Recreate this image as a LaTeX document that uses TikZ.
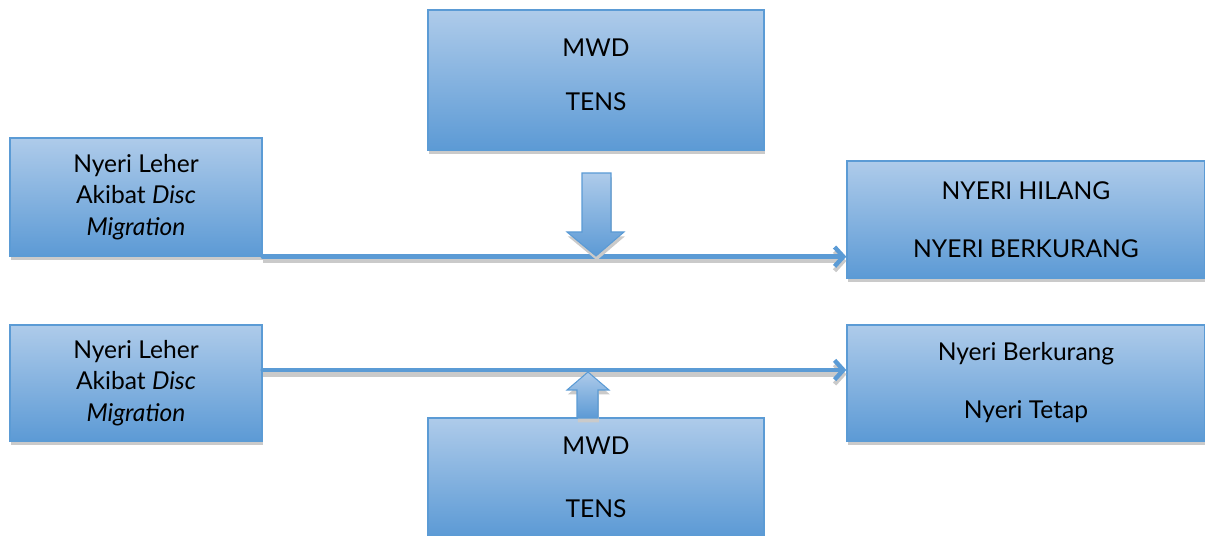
\documentclass[tikz,border=0pt]{standalone}
\usepackage{fontspec}
\setmainfont{Lato}
\usepackage{tikz}
\usetikzlibrary{arrows.meta, positioning, calc, shadows}

\definecolor{boxtop}{HTML}{AECBEA}
\definecolor{boxbottom}{HTML}{5C9AD5}
\definecolor{boxedge}{HTML}{5B9BD5}
\definecolor{shadowgray}{HTML}{CACACA}

\begin{document}
\begin{tikzpicture}[
    x=0.02cm, y=-0.02cm,
    font=\fontsize{14}{18}\selectfont,
    >=Stealth,
    stage/.style={rectangle, draw=boxedge, line width=0.8pt, top color=boxtop, bottom color=boxbottom, align=center, inner sep=0pt,
        drop shadow={shadow xshift=0.5pt, shadow yshift=-2.5pt, fill=shadowgray, opacity=1}},
    flow/.style={draw=boxedge, line width=2.5pt, line cap=round,
        -{Straight Barb[length=5pt, width=11pt, line width=2.5pt]},
        preaction={draw=shadowgray, line width=2.5pt, transform canvas={yshift=-2.5pt}}},
    block/.style={draw=boxedge, line width=0.6pt, top color=boxtop, bottom color=boxbottom,
        drop shadow={shadow xshift=0.5pt, shadow yshift=-2.5pt, fill=shadowgray, opacity=1}}
]
    \useasboundingbox (0,0) rectangle (1205,536);

    % upper row
    \node[stage, minimum width=6.72cm, minimum height=2.8cm] (mwdA) at (596,80) {MWD\\[13pt]TENS\\[-12pt]\mbox{}};
    \node[stage, minimum width=5.04cm, minimum height=2.36cm] (painA) at (136,197) {Nyeri Leher\\Akibat \textit{Disc}\\\textit{Migration}};
    \node[stage, minimum width=7.16cm, minimum height=2.34cm] (outA) at (1026,219.5) {NYERI HILANG\\[15pt]NYERI BERKURANG};

    % lower row
    \node[stage, minimum width=5.04cm, minimum height=2.32cm] (painB) at (136,383) {Nyeri Leher\\Akibat \textit{Disc}\\\textit{Migration}};
    \node[stage, minimum width=7.16cm, minimum height=2.32cm] (outB) at (1026,383) {Nyeri Berkurang\\[15pt]Nyeri Tetap};
    \node[stage, minimum width=6.72cm, minimum height=2.36cm] (mwdB) at (596,477) {MWD\\[18pt]TENS};

    \draw[flow] (painA.south east) -- (painA.south east -| outA.west);
    \draw[flow] ([yshift=0.26cm]painB.east) -- ([yshift=0.26cm]painB.east -| outB.west);

    % block arrows
    \path[block] (582,173) -- (611,173) -- (611,232) -- (624,232) -- (596,256) -- (567,232) -- (582,232) -- cycle;
    \path[block] (577,418) -- (577,390) -- (567,390) -- (588,372) -- (609,390) -- (598,390) -- (598,418) -- cycle;
\end{tikzpicture}
\end{document}
